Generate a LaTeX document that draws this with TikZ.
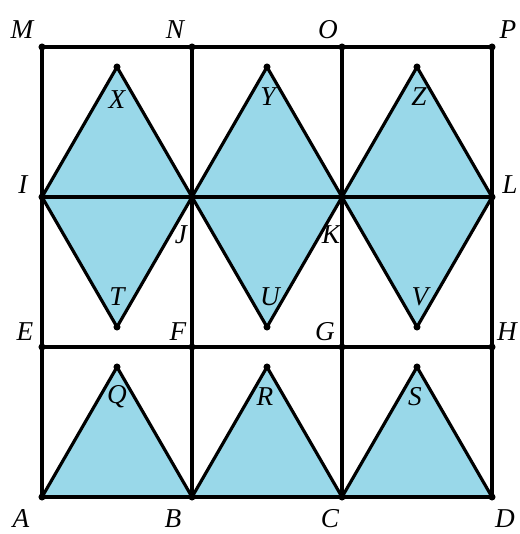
\documentclass[tikz,border=0pt]{standalone}
\usepackage{fontspec}
\setmainfont{Liberation Serif}
\usetikzlibrary{positioning, calc}
\definecolor{tileblue}{RGB}{153,216,233}
\tikzset{
  tile/.style={fill=tileblue, draw=black, line width=1.8pt, line join=round},
  gridline/.style={draw=black, line width=1.8pt},
  ptlabel/.style={font=\fontsize{15.5}{18}\selectfont\itshape, inner sep=0pt},
  vdot/.style={fill=black}
}
\begin{document}
\begin{tikzpicture}
  \useasboundingbox (-0.84,-0.74) rectangle (9.54,9.94);
  % grid points
  \coordinate (A) at (0,0);   \coordinate (B) at (3,0);
  \coordinate (C) at (6,0);   \coordinate (D) at (9,0);
  \coordinate (E) at (0,3);   \coordinate (F) at (3,3);
  \coordinate (G) at (6,3);   \coordinate (H) at (9,3);
  \coordinate (I) at (0,6);   \coordinate (J) at (3,6);
  \coordinate (K) at (6,6);   \coordinate (L) at (9,6);
  \coordinate (M) at (0,9);   \coordinate (N) at (3,9);
  \coordinate (O) at (6,9);   \coordinate (P) at (9,9);
  % apexes
  \coordinate (X) at (1.5,8.6); \coordinate (Y) at (4.5,8.6); \coordinate (Z) at (7.5,8.6);
  \coordinate (T) at (1.5,3.4); \coordinate (U) at (4.5,3.4); \coordinate (V) at (7.5,3.4);
  \coordinate (Q) at (1.5,2.6); \coordinate (R) at (4.5,2.6); \coordinate (S) at (7.5,2.6);

  % diamonds
  \filldraw[tile] (I) -- (X) -- (J) -- (T) -- cycle;
  \filldraw[tile] (J) -- (Y) -- (K) -- (U) -- cycle;
  \filldraw[tile] (K) -- (Z) -- (L) -- (V) -- cycle;
  % triangles
  \filldraw[tile] (A) -- (Q) -- (B) -- cycle;
  \filldraw[tile] (B) -- (R) -- (C) -- cycle;
  \filldraw[tile] (C) -- (S) -- (D) -- cycle;

  % squares
  \draw[gridline] (A) rectangle (P);
  \draw[gridline] (E) -- (H);
  \draw[gridline] (I) -- (L);
  \draw[gridline] (B) -- (N);
  \draw[gridline] (C) -- (O);

  % dots
  \foreach \p in {A,B,C,D,E,F,G,H,I,J,K,L,M,N,O,P,X,Y,Z,T,U,V,Q,R,S}
    \fill[vdot] (\p) circle (2pt);

  % labels
  \foreach \n/\x/\y in {M/-0.4/9.34, N/2.66/9.34, O/5.72/9.34, P/9.32/9.34,
                        I/-0.38/6.24, L/9.36/6.24, J/2.78/5.24, K/5.78/5.24,
                        E/-0.34/3.3, F/2.72/3.3, G/5.66/3.3, H/9.3/3.3,
                        A/-0.42/-0.44, B/2.62/-0.44, C/5.76/-0.44, D/9.26/-0.44,
                        X/1.5/7.94, Y/4.52/8.0, Z/7.54/8.0,
                        T/1.5/4.0, U/4.56/4.0, V/7.56/4.0,
                        Q/1.5/2.0, R/4.46/2.0, S/7.46/2.0}
    \node[ptlabel] (l\n) at (\x,\y) {\n};
\end{tikzpicture}
\end{document}
